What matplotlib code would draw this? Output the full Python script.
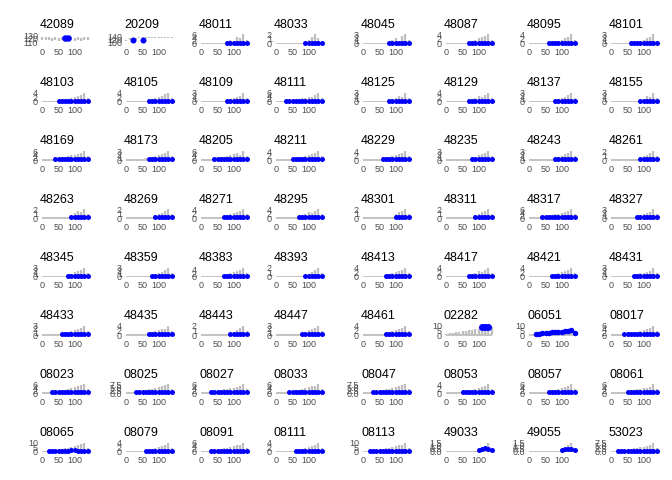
import numpy as np
import matplotlib
matplotlib.use('Agg')
import matplotlib.pyplot as plt
from matplotlib.ticker import MaxNLocator

plt.rcParams['font.family'] = ['Liberation Sans', 'DejaVu Sans']

# dias (eje x) comunes a todos los paneles
days = [0, 10, 20, 30, 40, 50, 60, 70, 80, 90, 100, 110, 120, 130, 140]

fips = ['42089', '20209', '48011', '48033', '48045', '48087', '48095', '48101',
        '48103', '48105', '48109', '48111', '48125', '48129', '48137', '48155',
        '48169', '48173', '48205', '48211', '48229', '48235', '48243', '48261',
        '48263', '48269', '48271', '48295', '48301', '48311', '48317', '48327',
        '48345', '48359', '48383', '48393', '48413', '48417', '48421', '48431',
        '48433', '48435', '48443', '48447', '48461', '02282', '06051', '08017',
        '08023', '08025', '08027', '08033', '08047', '08053', '08057', '08061',
        '08065', '08079', '08091', '08111', '08113', '49033', '49055', '53023']

# valor del eje y que corresponde al digito 9 en cada panel
ytop = [132, 155, 6, 2, 3, 4, 4, 3,
        4, 4, 3, 6, 3, 4, 3, 3,
        6, 3, 6, 4, 4, 3, 3, 2,
        2, 2, 4, 4, 2, 2, 6, 3,
        3, 3, 5, 2, 4, 4, 4, 3,
        3, 4, 2, 3, 4, 10, 10, 6,
        6, 7.5, 6, 6, 7.5, 4, 6, 6,
        10, 4, 6, 4, 10, 1.5, 1.5, 7.5]

# valor del digito 0 (solo distinto de cero en dos paneles)
ybot = {'42089': 108, '20209': 95}

# serie gris: altura (0-9) en cada dia
gray_hi = ['666565665656566', '455566666666666', '000000002436594', '000000000346952',
           '000000002453794', '000000023456794', '000000223345694', '000000122345693',
           '000001223456794', '000000023456894', '000000002345694', '000122334455794',
           '000000002346594', '000000023465794', '000000002345794', '000000000236594',
           '000012334556794', '000000223456794', '000012334567594', '000001233456794',
           '000000233456794', '000000002356794', '000000002346794', '000000000245794',
           '000000000357694', '000000000345794', '000000023456794', '000000023465794',
           '000000000146794', '000000000346794', '000012334456794', '000000002345694',
           '000000002356794', '000000002345794', '000000023456794', '000000000235794',
           '000000023456794', '000000023465794', '000000023456794', '000000023445694',
           '000000233456794', '000000023456694', '000000000235794', '000000002356794',
           '000000023456794', '122334455667788', '012233344556674', '000012233456794',
           '000123334567894', '000123344567894', '000123344556794', '000012334567794',
           '000123344567894', '000001233456794', '000000233456794', '000001234455694',
           '001223344567894', '000000233456794', '000123344567794', '000000233456794',
           '001223344567794', '000000000024693', '000000000014792', '001223344556794']

# extremo inferior de la serie gris donde no parte de cero
gray_lo = {'42089': '444343443434344',
           '20209': '344455555555555'}

# serie azul: '.' = sin punto
blue = ['.......55......', '..4..4.........', '........1111111', '.........111111',
        '........1111111', '.......11111111', '......111111111', '......111111111',
        '.....1111111111', '.......11111111', '........1111111', '...111111111111',
        '........1111111', '.......11111111', '........1111111', '.........111111',
        '....11111111111', '.......11111111', '....11111111111', '.....1111111111',
        '......111111111', '........1111111', '........1111111', '.........111111',
        '.........111111', '.........111111', '.......11111111', '.......11111111',
        '..........11111', '.........111111', '....11111111111', '........1111111',
        '........1111111', '........1111111', '.......11111111', '.........111111',
        '.......11111111', '.......11111111', '.......11111111', '.......11111111',
        '......111111111', '.......11111111', '.........111111', '........1111111',
        '.......11111111', '...........888.', '..1122233334452', '....11111111111',
        '...111111111111', '...111111111111', '...111111111111', '....11111111111',
        '...111111111111', '.....1111111111', '......111111111', '.....1111111111',
        '..1111111221111', '......111111111', '...111111111111', '......111111111',
        '..1111111111111', '..........23432', '..........23332', '..1111111111111']

GRAY = '#BEBEBE'
BLUE = '#0000FF'
TXT = '#4D4D4D'

W, H = 672, 480
col_left = [40, 124, 199, 274, 361, 444, 527, 609]
pw, ph = 50, 10
dot_px = {'42089': 6.5, '20209': 6, '02282': 7, '06051': 5.5}


def to_vals(s, lo, hi):
    return np.array([np.nan if ch == '.' else lo + int(ch) / 9 * (hi - lo) for ch in s])


fig = plt.figure(figsize=(W / 100, H / 100), dpi=100)

for i, f in enumerate(fips):
    r, c = divmod(i, 8)
    top_px = 34 + 58.3 * r
    ax = fig.add_axes([col_left[c] / W, 1 - (top_px + ph) / H, pw / W, ph / H])

    lo = ybot.get(f, 0)
    hi = ytop[i]
    g_hi = to_vals(gray_hi[i], lo, hi)
    g_lo = to_vals(gray_lo.get(f, '0' * len(days)), lo, hi)
    b = to_vals(blue[i], lo, hi)

    ax.hlines(0, days[0], days[-1], color=GRAY, lw=1.3, zorder=1)
    ax.vlines(days, g_lo, g_hi, color=GRAY, lw=1.6, zorder=2)
    d = dot_px.get(f, 5.0) * 72 / 100
    ax.scatter(days, b, s=d ** 2, color=BLUE, lw=0, zorder=3, clip_on=False)

    ax.set_xlim(-7, 147)
    pad = 0.05 * (hi - lo)
    ax.set_ylim(lo - pad, hi + pad)
    ax.set_xticks([0, 50, 100])
    ax.yaxis.set_major_locator(MaxNLocator(nbins=4, steps=[1, 2, 2.5, 5, 10]))
    ax.tick_params(length=0, labelsize=6.5, labelcolor=TXT)
    ax.tick_params(axis='x', pad=3)
    ax.tick_params(axis='y', pad=1.5)
    for sp in ax.spines.values():
        sp.set_visible(False)
    ax.set_title(f, loc='left', pad=4.5, fontsize=9, color='black')

fig.savefig('out.png', dpi=100, facecolor='white')
